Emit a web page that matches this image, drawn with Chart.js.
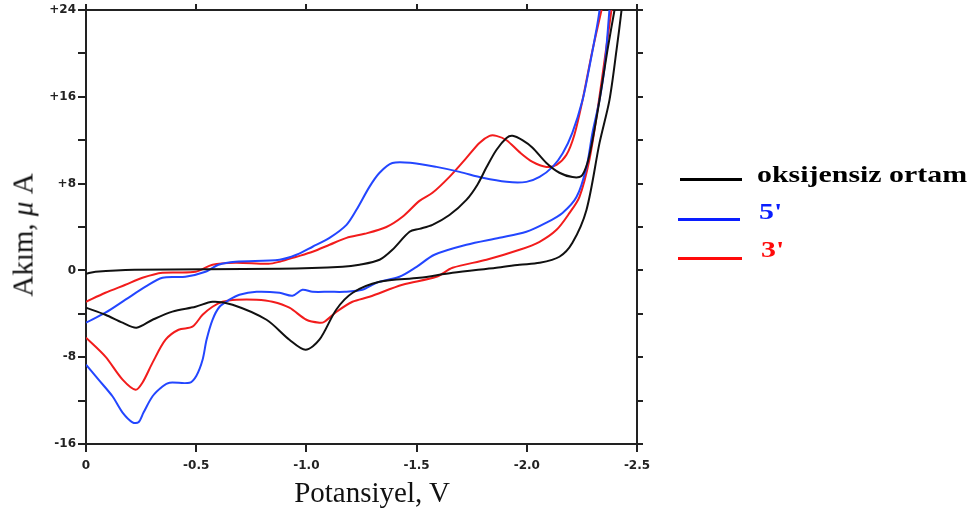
<!DOCTYPE html>
<html>
<head>
<meta charset="utf-8">
<script src="https://cdn.jsdelivr.net/npm/chart.js@4.4.1/dist/chart.umd.min.js"></script>
<style>
	html, body { margin: 0; padding: 0; background: #fff; }
	#wrap { position: relative; width: 980px; height: 515px; overflow: hidden; }
	#cv { position: absolute; left: 0; top: 0; }
	.axis-title { position: absolute; font-family: "Liberation Serif", "Times New Roman", serif; font-size: 29px; line-height: 29px; color: #111; white-space: nowrap; }
	#xTitle { left: 372px; top: 478px; transform: translateX(-50%); }
	#yTitle { left: 23px; top: 235px; transform: translate(-50%, -50%) rotate(-90deg); }
	.lg-line { position: absolute; height: 3px; }
	.lg-text { position: absolute; font-family: "Liberation Serif", "Times New Roman", serif; font-weight: bold; font-size: 23px; line-height: 24px; white-space: nowrap; transform: scaleX(1.3); transform-origin: 0 50%; }
</style>
</head>
<body>
<div id="wrap">
	<canvas id="cv" width="980" height="515"></canvas>
	<div class="axis-title" id="xTitle">Potansiyel, V</div>
	<div class="axis-title" id="yTitle">Akım, <i>μ</i> A</div>
	<div id="legend"></div>
</div>
<script>
	'use strict';

	const seriesNames = ['oksijensiz ortam', "5'", "3'"];

	// potential (V) and current (µA), forward scan then return scan
	const blackE = [0, -0.043, -0.22, -0.878, -1.164, -1.241, -1.332, -1.39, -1.468, -1.513, -1.572, -1.649, -1.726, -1.776, -1.817, -1.862, -1.908, -1.935, -1.98, -2.026, -2.089, -2.148, -2.207, -2.248, -2.275, -2.298, -2.33, -2.366, -2.398, -2.421,
		-2.443, -2.43, -2.407, -2.375, -2.33, -2.271, -2.207, -2.148, -2.058, -1.967, -1.862, -1.663, -1.513, -1.332, -1.21, -1.136, -1.059, -0.996, -0.923, -0.819, -0.665, -0.574, -0.497, -0.392, -0.302, -0.229, -0.166, -0.088, 0];
	const blackI = [-0.31, -0.13, 0.06, 0.15, 0.33, 0.52, 0.98, 1.9, 3.56, 3.83, 4.2, 5.1, 6.5, 7.9, 9.5, 11.1, 12.2, 12.4, 12.0, 11.3, 9.9, 9.0, 8.6, 8.7, 9.9, 12.0, 15.7, 20.3, 24.0, 26.5,
		26.5, 24.0, 20.3, 15.7, 11.75, 5.6, 2.55, 1.26, 0.7, 0.52, 0.24, -0.22, -0.68, -1.05, -2.06, -3.6, -6.39, -7.31, -6.39, -4.55, -3.16, -2.89, -3.35, -3.8, -4.55, -5.28, -4.82, -4.09, -3.44];

	const blueE = [0, -0.088, -0.179, -0.27, -0.347, -0.451, -0.542, -0.601, -0.678, -0.878, -0.955, -1.028, -1.105, -1.182, -1.227, -1.286, -1.332, -1.39, -1.481, -1.59, -1.695, -1.8, -1.908, -1.998, -2.058, -2.117, -2.163, -2.207, -2.253, -2.284, -2.316, -2.33, -2.339,
		-2.386, -2.375, -2.353, -2.33, -2.298, -2.271, -2.226, -2.162, -2.089, -1.998, -1.876, -1.726, -1.581, -1.5, -1.422, -1.318, -1.254, -1.173, -1.105, -1.028, -0.982, -0.937, -0.878, -0.774, -0.696, -0.651, -0.606, -0.574, -0.547, -0.529, -0.501, -0.47, -0.379, -0.347, -0.302, -0.261, -0.238, -0.211, -0.166, -0.12, -0.057, 0];
	const blueI = [-4.82, -3.9, -2.7, -1.5, -0.68, -0.59, -0.13, 0.52, 0.8, 0.98, 1.44, 2.18, 3.0, 4.2, 5.58, 7.7, 9.0, 9.9, 9.9, 9.54, 9.08, 8.53, 8.16, 8.16, 8.62, 9.54, 10.8, 12.7, 15.7, 18.75, 22.2, 24.0, 26.5,
		26.5, 24.0, 18.75, 15.7, 12.7, 9.54, 6.78, 5.3, 4.4, 3.56, 3.0, 2.36, 1.44, 0.33, -0.59, -1.14, -1.78, -1.97, -1.97, -1.97, -1.78, -2.33, -2.06, -1.97, -2.24, -2.7, -3.35, -4.55, -6.39, -8.23, -9.7, -10.35, -10.35, -10.7, -11.6, -13.1, -14.0, -14.0, -13.1, -11.6, -10.07, -8.69];

	const redE = [0, -0.088, -0.179, -0.256, -0.347, -0.497, -0.574, -0.678, -0.828, -0.878, -0.955, -1.028, -1.105, -1.182, -1.264, -1.363, -1.436, -1.513, -1.572, -1.649, -1.726, -1.785, -1.831, -1.862, -1.908, -1.967, -2.026, -2.089, -2.135, -2.18, -2.216, -2.253, -2.298, -2.339, -2.366,
		-2.4, -2.384, -2.353, -2.321, -2.284, -2.239, -2.194, -2.135, -2.058, -1.967, -1.817, -1.663, -1.59, -1.436, -1.286, -1.209, -1.137, -1.082, -1.059, -1.0, -0.923, -0.846, -0.774, -0.683, -0.619, -0.574, -0.529, -0.483, -0.42, -0.361, -0.302, -0.256, -0.225, -0.166, -0.088, 0];
	const redI = [-2.89, -2.06, -1.32, -0.68, -0.22, -0.13, 0.52, 0.7, 0.61, 0.8, 1.26, 1.72, 2.36, 3.0, 3.37, 4.0, 4.94, 6.41, 7.15, 8.62, 10.37, 11.75, 12.4, 12.4, 12.0, 10.9, 10.0, 9.54, 9.73, 10.65, 12.5, 15.7, 20.3, 24.0, 26.5,
		26.5, 24.0, 19.4, 14.8, 10.2, 6.78, 5.3, 3.74, 2.64, 1.9, 0.98, 0.24, -0.59, -1.32, -2.43, -2.89, -3.81, -4.73, -4.82, -4.55, -3.44, -2.89, -2.7, -2.7, -2.89, -3.35, -4.09, -5.19, -5.47, -6.39, -8.5, -10.35, -11.0, -10.07, -7.95, -6.2];

	const xTickValues = [-2.5, -2.0, -1.5, -1.0, -0.5, 0];
	const xTickLabels = ['-2.5', '-2.0', '-1.5', '-1.0', '-0.5', '0'];
	const yTickValues = [-16, -12, -8, -4, 0, 4, 8, 12, 16, 20, 24];
	const yTickLabels = ['-16', '', '-8', '', '0', '', '+8', '', '+16', '', '+24'];

	const lineColors = ['#111111', '#2346ff', '#f21c1c'];
	const legendColors = ['#000000', '#0a1eff', '#ff0a0a'];

	const axisColor = '#222222';
	const tickFont = { family: 'DejaVu Sans', weight: 'bold', size: 12 };

	const toPoints = function (e, i) {
		return e.map((v, idx) => ({ x: v, y: i[idx] }));
	};

	const makeDataset = function (idx, e, i) {
		return {
			label: seriesNames[idx],
			data: toPoints(e, i),
			showLine: true,
			borderColor: lineColors[idx],
			backgroundColor: lineColors[idx],
			borderWidth: 2,
			pointRadius: 0,
			tension: 0.3,
			xAxisID: 'x',
			yAxisID: 'y'
		};
	};

	const setTicks = function (values) {
		return function (scale) {
			scale.ticks = values.map(v => ({ value: v }));
		};
	};

	const makeAxis = function (opts) {
		const isX = opts.axis === 'x';
		return {
			type: 'linear',
			axis: opts.axis,
			position: opts.position,
			min: isX ? -2.5 : -16,
			max: isX ? 0 : 24,
			reverse: isX,
			afterBuildTicks: setTicks(isX ? xTickValues : yTickValues),
			afterFit: opts.fit,
			border: { display: true, color: axisColor, width: 2 },
			grid: {
				drawOnChartArea: false,
				drawTicks: true,
				tickLength: opts.tickLength,
				color: axisColor,
				lineWidth: 2
			},
			ticks: {
				display: opts.labels,
				autoSkip: false,
				maxRotation: 0,
				padding: isX ? 7 : 2,
				color: axisColor,
				font: tickFont,
				callback: function (value, index) {
					return (isX ? xTickLabels : yTickLabels)[index];
				}
			}
		};
	};

	const handleLegend = function () {
		const legend = document.getElementById('legend');
		const rows = [
			{ lineX: 680, lineY: 178, lineW: 62, textX: 757, textY: 163 },
			{ lineX: 678, lineY: 218, lineW: 62, textX: 759, textY: 200 },
			{ lineX: 678, lineY: 257, lineW: 64, textX: 761, textY: 238 }
		];
		rows.forEach((row, idx) => {
			const line = document.createElement('div');
			line.className = 'lg-line';
			line.style.left = row.lineX + 'px';
			line.style.top = row.lineY + 'px';
			line.style.width = row.lineW + 'px';
			line.style.background = legendColors[idx];
			legend.appendChild(line);

			const text = document.createElement('div');
			text.className = 'lg-text';
			text.style.left = row.textX + 'px';
			text.style.top = row.textY + 'px';
			text.style.color = legendColors[idx];
			text.textContent = seriesNames[idx];
			legend.appendChild(text);
		});
	};

	const handleChart = function () {
		const ctx = document.getElementById('cv').getContext('2d');
		new Chart(ctx, {
			type: 'scatter',
			data: {
				datasets: [
					makeDataset(0, blackE, blackI),
					makeDataset(1, blueE, blueI),
					makeDataset(2, redE, redI)
				]
			},
			options: {
				responsive: false,
				animation: false,
				events: [],
				layout: { padding: { left: 0, top: 0, right: 337, bottom: 0 } },
				plugins: {
					legend: { display: false },
					tooltip: { enabled: false }
				},
				scales: {
					x: makeAxis({ axis: 'x', position: 'bottom', tickLength: 8, labels: true, fit: s => { s.height = 71; } }),
					x2: makeAxis({ axis: 'x', position: 'top', tickLength: 6, labels: false, fit: s => { s.height = 10; } }),
					y: makeAxis({ axis: 'y', position: 'left', tickLength: 8, labels: true, fit: s => { s.width = 86; } }),
					y2: makeAxis({ axis: 'y', position: 'right', tickLength: 6, labels: false, fit: s => { s.width = 6; } })
				}
			}
		});
	};

	handleLegend();
	handleChart();
</script>
</body>
</html>
